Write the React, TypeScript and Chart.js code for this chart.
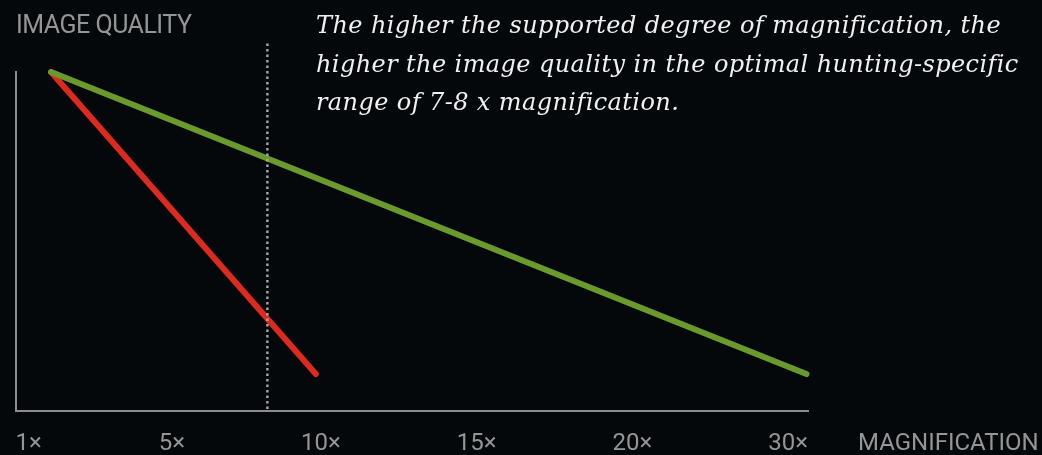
import React, { useEffect, useRef } from "react";
import { Chart, registerables } from "chart.js";

Chart.register(...registerables);

// X axis is measured in "slots": one slot per tick label below.
const TICK_LABELS = ["1×", "5×", "10×", "15×", "20×", "30×"];
const TICK_SLOTS = [0.08, 1, 2, 3, 4, 5];

// Image quality (0..100) against magnification slot
const GREEN_X = [0.14, 4.99];
const GREEN_Y = [100, 10.9];
const RED_X = [0.14, 1.84];
const RED_Y = [100, 10.9];
// Optimal hunting-specific range marker (≈7-8×)
const MARKER_X = [1.529, 1.529];
const MARKER_Y = [0.6, 109.1];

const Y_TITLE = "IMAGE QUALITY";
const X_TITLE = "MAGNIFICATION";
const NOTE_LINES = [
  "The higher the supported degree of magnification, the",
  "higher the image quality in the optimal hunting-specific",
  "range of 7-8 x magnification.",
];

const BG = "#05080a";
const AXIS = "#8c8c8c";
const LABEL = "#959595";

const toPts = (xs: number[], ys: number[]) => xs.map((x, i) => ({ x, y: ys[i] }));

export default function App() {
  const ref = useRef<HTMLCanvasElement | null>(null);

  useEffect(() => {
    document.body.style.margin = "0";
    document.body.style.background = BG;
    const canvas = ref.current!;
    const textPlugin = {
      id: "texts",
      afterDraw(chart: any) {
        const ctx = chart.ctx as CanvasRenderingContext2D;
        ctx.save();
        ctx.textBaseline = "alphabetic";
        ctx.textAlign = "left";
        ctx.fillStyle = LABEL;
        ctx.font = "400 25px Roboto";
        (ctx as any).letterSpacing = "-0.5px";
        ctx.fillText(Y_TITLE, 16, 33);
        (ctx as any).letterSpacing = "0px";
        ctx.font = "400 24px Roboto";
        ctx.fillText(X_TITLE, 858, 450);
        ctx.fillStyle = "#f0f0f0";
        ctx.font = "italic 400 24px 'DejaVu Serif'";
        (ctx as any).letterSpacing = "0.4px";
        const baselines = [33, 71.5, 110];
        NOTE_LINES.forEach((l, i) => ctx.fillText(l, 316, baselines[i]));
        ctx.restore();
      },
    };

    const chart = new Chart(canvas, {
      type: "line",
      data: {
        datasets: [
          {
            data: toPts(MARKER_X, MARKER_Y),
            borderColor: "#a8a8a8",
            borderWidth: 2.4,
            borderDash: [2.4, 3.1],
            pointRadius: 0,
            clip: false as any,
          },
          {
            data: toPts(GREEN_X, GREEN_Y),
            borderColor: "#6a9a2d",
            borderWidth: 6,
            borderCapStyle: "round",
            pointRadius: 0,
            clip: false as any,
          },
          {
            data: toPts(RED_X, RED_Y),
            borderColor: "#dc2a1e",
            borderWidth: 6,
            borderCapStyle: "round",
            pointRadius: 0,
            clip: false as any,
          },
        ],
      },
      options: {
        animation: false,
        responsive: false,
        layout: { padding: { left: 16, right: 234, top: 72, bottom: 3 } },
        plugins: { legend: { display: false }, tooltip: { enabled: false } },
        scales: {
          x: {
            type: "linear",
            min: -0.085,
            max: 5,
            grid: { display: false },
            border: { display: true, color: AXIS, width: 2 },
            afterBuildTicks: (axis: any) => {
              axis.ticks = TICK_SLOTS.map((v) => ({ value: v }));
            },
            afterFit: (axis: any) => {
              axis.height = 41;
              axis.paddingLeft = 0;
              axis.paddingRight = 0;
            },
            ticks: {
              align: "end",
              padding: 13,
              color: LABEL,
              font: { family: "Roboto", size: 24, lineHeight: 1 },
              callback: (_v: any, i: number) => TICK_LABELS[i],
            },
          },
          y: {
            type: "linear",
            min: 0,
            max: 100,
            grid: { display: false },
            border: { display: true, color: AXIS, width: 2 },
            ticks: { display: false },
            afterFit: (axis: any) => {
              axis.width = 0;
              axis.paddingTop = 0;
              axis.paddingBottom = 0;
            },
          },
        },
      },
      plugins: [textPlugin],
    });
    return () => chart.destroy();
  }, []);

  return (
    <div style={{ position: "absolute", left: 0, top: 0, width: 1042, height: 455, background: BG }}>
      <canvas ref={ref} width={1042} height={455} style={{ width: 1042, height: 455 }} />
    </div>
  );
}
